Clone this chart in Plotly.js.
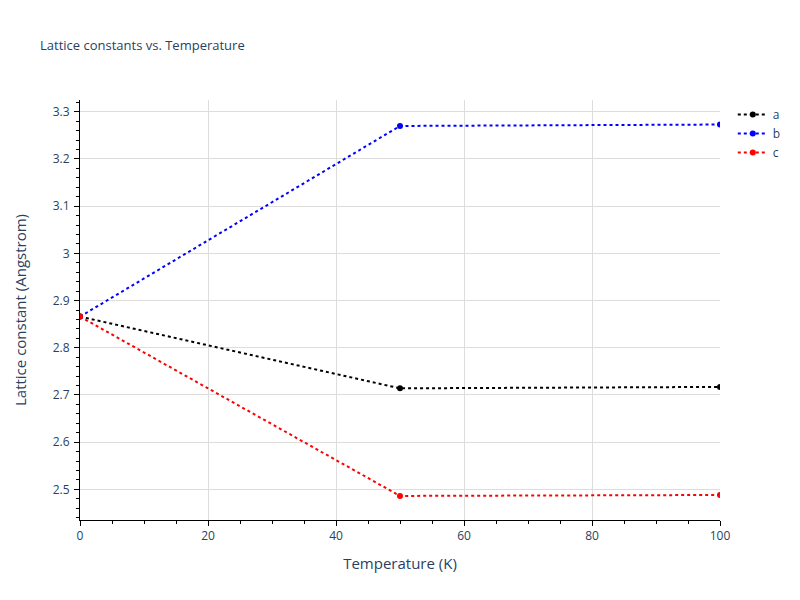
<!DOCTYPE html>
<html>
<head>
<meta charset="utf-8">
<script src="https://cdn.plot.ly/plotly-3.0.1.min.js"></script>
<style>html,body{margin:0;padding:0;background:#fff;}</style>
</head>
<body>
<div id="chart" style="width:800px;height:600px;"></div>
<script>
const temperatures = [0, 50, 100];
const latticeA = [2.866, 2.714, 2.717];
const latticeB = [2.866, 3.270, 3.273];
const latticeC = [2.866, 2.486, 2.488];
const seriesNames = ['a', 'b', 'c'];
const seriesColors = ['black', 'blue', 'red'];
const seriesValues = [latticeA, latticeB, latticeC];

const traces = seriesValues.map((vals, i) => ({
  x: temperatures,
  y: vals,
  name: seriesNames[i],
  mode: 'lines+markers',
  line: {color: seriesColors[i], dash: 'dot', width: 2},
  marker: {color: seriesColors[i], size: 6}
}));

const axisCommon = {
  showline: true,
  linecolor: 'black',
  linewidth: 1,
  ticks: 'outside',
  tickcolor: 'black',
  ticklen: 5,
  showgrid: true,
  gridcolor: '#dddddd',
  zeroline: false,
  tickfont: {size: 12, color: '#2a3f5f'}
};

const layout = {
  width: 800, height: 600,
  paper_bgcolor: 'white', plot_bgcolor: 'white',
  font: {family: '"Open Sans", verdana, arial, sans-serif', color: '#2a3f5f'},
  title: {text: 'Lattice constants vs. Temperature', x: 0.05, font: {size: 13, color: '#2a3f5f'}},
  margin: {l: 80, r: 80, t: 100, b: 80},
  xaxis: Object.assign({}, axisCommon, {
    title: {text: 'Temperature (K)', font: {size: 15, color: '#2a3f5f'}, standoff: 15},
    range: [0, 100], dtick: 20,
    minor: {ticks: 'outside', ticklen: 3, tickcolor: 'black', dtick: 5, showgrid: false}
  }),
  yaxis: Object.assign({}, axisCommon, {
    title: {text: 'Lattice constant (Angstrom)', font: {size: 15, color: '#2a3f5f'}, standoff: 22},
    range: [2.435, 3.325], dtick: 0.1,
    ticklabelstandoff: 2,
    minor: {ticks: 'outside', ticklen: 3, tickcolor: 'black', dtick: 0.02, showgrid: false}
  }),
  legend: {font: {size: 12, color: '#2a3f5f'}}
};

Plotly.newPlot('chart', traces, layout, {displayModeBar: false});
</script>
</body>
</html>
